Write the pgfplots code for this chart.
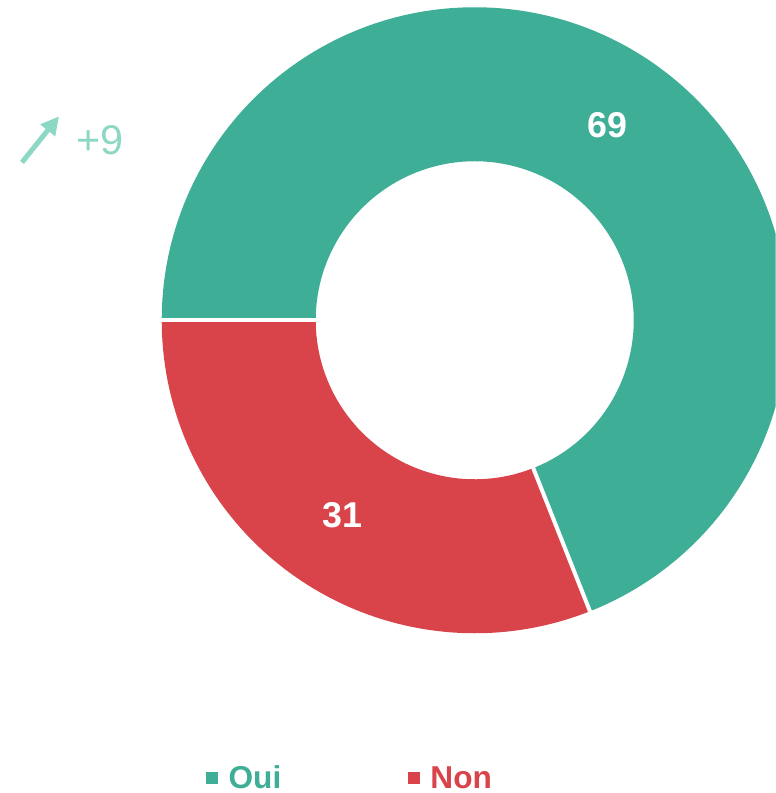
\documentclass[border=0pt]{standalone}
\usepackage{pgfplots}
\usepackage{pgfplotstable}
\pgfplotsset{compat=1.18}
\usetikzlibrary{arrows.meta}
\usepackage{fontspec}
\setmainfont{Liberation Sans}

\definecolor{oui}{RGB}{63,174,150}
\definecolor{non}{RGB}{217,68,75}
\definecolor{delta}{RGB}{141,216,197}

\pgfplotstableread{
label value
Oui 69
Non 31
}\piedata

\begin{document}
\begin{tikzpicture}
\pgfplotstablegetelem{0}{value}\of\piedata \let\vOui\pgfplotsretval
\pgfplotstablegetelem{1}{value}\of\piedata \let\vNon\pgfplotsretval
% angles, clockwise from 9 o'clock
\pgfmathsetmacro\aSplit{180-\vOui*3.6}
\pgfmathsetmacro\aEnd{\aSplit-\vNon*3.6}
\pgfmathsetmacro\mOui{(180+\aSplit)/2}
\pgfmathsetmacro\mNon{(\aSplit+\aEnd)/2}
\def\R{3.13cm}
\def\r{1.59cm}
\def\W{1.54cm}
\begin{axis}[
    x=0.01cm, y=0.01cm,
    xmin=0, xmax=776, ymin=-793, ymax=0,
    hide axis, clip mode=global,
]
% donut
\fill[oui] (axis cs:475,-320) ++(180:\R) arc[start angle=180,end angle=\aSplit,radius=\R]
    -- ++(\aSplit:-\W) arc[start angle=\aSplit,end angle=180,radius=\r] -- cycle;
\fill[non] (axis cs:475,-320) ++(\aSplit:\R) arc[start angle=\aSplit,end angle=\aEnd,radius=\R]
    -- ++(\aEnd:-\W) arc[start angle=\aEnd,end angle=\aSplit,radius=\r] -- cycle;
\draw[white, line width=0.04cm] (axis cs:475,-320) ++(180:1.55cm) -- ++(180:1.62cm);
\draw[white, line width=0.04cm] (axis cs:475,-320) ++(\aSplit:1.55cm) -- ++(\aSplit:1.62cm);
% values
\path (axis cs:475,-320) ++(\mOui:2.36cm) node[text=white, font=\fontsize{10.2}{11}\selectfont\bfseries] {\vOui};
\path (axis cs:475,-320) ++(\mNon:2.36cm) node[text=white, font=\fontsize{10.2}{11}\selectfont\bfseries] {\vNon};
% change indicator
\draw[delta, line width=0.05cm, -{Triangle[length=0.18cm,width=0.18cm]}] (axis cs:22,-162) -- (axis cs:59,-116);
\node[anchor=base west, inner sep=0, text=delta, font=\fontsize{11.8}{12}\selectfont] at (axis cs:76,-154) {+9};
% legend
\fill[oui] (axis cs:206,-772) rectangle (axis cs:218,-784);
\node[anchor=base west, inner sep=0, text=oui, font=\fontsize{9}{10}\selectfont\bfseries] at (axis cs:228,-788) {Oui};
\fill[non] (axis cs:408,-772) rectangle (axis cs:420,-784);
\node[anchor=base west, inner sep=0, text=non, font=\fontsize{9}{10}\selectfont\bfseries] at (axis cs:430,-788) {Non};
\end{axis}
\pgfresetboundingbox
\path[use as bounding box] (0,0) rectangle (7.76cm,7.93cm);
\end{tikzpicture}
\end{document}
